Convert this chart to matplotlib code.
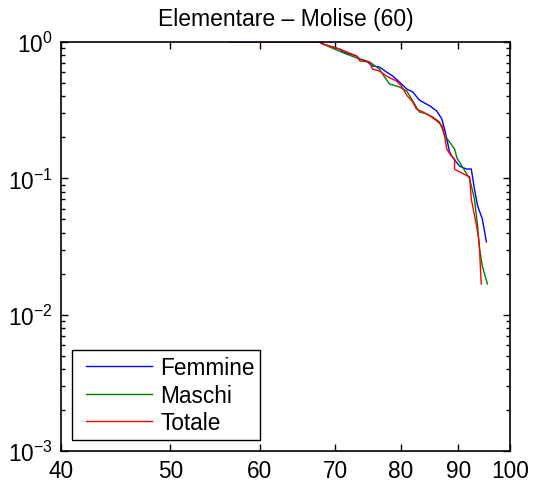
import numpy as np
import matplotlib
matplotlib.use("Agg")
import matplotlib.pyplot as plt
from matplotlib.legend_handler import HandlerLine2D
from matplotlib.ticker import FixedLocator, NullLocator, FixedFormatter, LogLocator, LogFormatterMathtext

plt.rcParams['font.family'] = ['Liberation Sans', 'DejaVu Sans']
plt.rcParams['mathtext.fontset'] = 'custom'
plt.rcParams['mathtext.rm'] = 'Liberation Sans'
plt.rcParams['mathtext.it'] = 'Liberation Sans:italic'
plt.rcParams['mathtext.bf'] = 'Liberation Sans:bold'

# Survival curves (fraction of schools with score >= x)
femmine_x = [56.5, 67.8, 68.2, 70.6, 71.1, 73.1, 73.6, 74.6, 75.5, 76.6, 77.7, 78.7,
             79.8, 81.0, 82.0, 83.1, 84.9, 86.1, 87.0, 87.5, 87.9, 88.4, 88.9, 90.2,
             91.5, 92.4, 93.0, 93.6, 94.5, 95.3]
femmine_y = [1.0, 1.0, 0.967, 0.889, 0.845, 0.79, 0.75, 0.726, 0.667, 0.656, 0.603, 0.563,
             0.509, 0.452, 0.43, 0.375, 0.34, 0.312, 0.273, 0.23, 0.194, 0.156, 0.1435, 0.123,
             0.117, 0.117, 0.0836, 0.0628, 0.0504, 0.0342]

maschi_x = [60.5, 67.8, 69.2, 71.5, 73.6, 75.1, 76.6, 77.4, 78.2, 79.8, 81.0, 81.8,
            83.1, 84.3, 85.4, 86.6, 87.1, 87.5, 88.4, 89.3, 89.8, 90.2, 92.1, 93.0,
            93.6, 93.9, 94.5, 95.5]
maschi_y = [1.0, 1.0, 0.919, 0.82, 0.75, 0.713, 0.634, 0.554, 0.492, 0.468, 0.437, 0.382,
            0.307, 0.297, 0.282, 0.259, 0.23, 0.205, 0.185, 0.164, 0.1388, 0.132, 0.099, 0.0706,
            0.0448, 0.0319, 0.0228, 0.0168]

totale_x = [59.9, 67.8, 68.2, 70.6, 73.1, 73.6, 75.1, 75.5, 76.6, 77.7, 79.3, 80.1,
            81.1, 82.0, 82.6, 83.7, 84.9, 86.1, 87.1, 87.5, 87.9, 88.7, 89.3, 89.3,
            90.2, 92.1, 92.4, 93.4, 93.9, 94.3]
totale_y = [1.0, 1.0, 0.967, 0.889, 0.79, 0.726, 0.713, 0.634, 0.613, 0.563, 0.518, 0.476,
            0.402, 0.363, 0.323, 0.307, 0.287, 0.264, 0.242, 0.205, 0.164, 0.146, 0.139, 0.117,
            0.1114, 0.1024, 0.0706, 0.0448, 0.0342, 0.0168]

series_labels = ["Femmine", "Maschi", "Totale"]
series_colors = ["#0000ff", "#008000", "#ff0000"]

x_ticks = [40, 50, 60, 70, 80, 90, 100]
title = "Elementare \u2013 Molise (60)"

FS = 16.3


class IndentedLine(HandlerLine2D):
    """Legend line sample pushed a few points to the right."""

    def __init__(self, shift, **kw):
        super().__init__(**kw)
        self._shift = shift

    def get_xdata(self, legend, xdescent, ydescent, width, height, fontsize):
        xd, xdm = super().get_xdata(legend, xdescent, ydescent, width, height, fontsize)
        return np.asarray(xd) + self._shift, np.asarray(xdm) + self._shift


fig = plt.figure(figsize=(5.37, 4.89), dpi=100)
ax = fig.add_axes([61 / 537, 37 / 489, 449 / 537, 409 / 489])

lines = []
for xs, ys, lab, col in zip([femmine_x, maschi_x, totale_x],
                            [femmine_y, maschi_y, totale_y],
                            series_labels, series_colors):
    ln, = ax.plot(xs, ys, color=col, lw=1.0, label=lab)
    lines.append(ln)

ax.set_xscale('log')
ax.set_yscale('log')
ax.set_xlim(40, 100)
ax.set_ylim(1e-3, 1)

ax.xaxis.set_major_locator(FixedLocator(x_ticks))
ax.xaxis.set_major_formatter(FixedFormatter([str(t) for t in x_ticks]))
ax.xaxis.set_minor_locator(NullLocator())
ax.yaxis.set_major_locator(LogLocator(base=10, numticks=10))
ax.yaxis.set_major_formatter(LogFormatterMathtext())
ax.yaxis.set_minor_locator(LogLocator(base=10, subs=range(2, 10), numticks=10))

ax.tick_params(which='both', direction='in', top=True, right=True,
               labelsize=FS, width=1.0, color='black')
ax.tick_params(which='major', length=5, pad=6)
ax.tick_params(which='minor', length=3)
for s in ax.spines.values():
    s.set_linewidth(1.2)

ax.set_title(title, fontsize=16.5, pad=12.2)

shift_pt = 8.4 * 72 / 100
leg = ax.legend(loc='lower left', bbox_to_anchor=(0.0245, 0.027), borderaxespad=0,
                fontsize=FS, handlelength=2.92, handletextpad=0.72,
                labelspacing=0.21, borderpad=0.25, fancybox=False, framealpha=1,
                handler_map={ln: IndentedLine(shift_pt) for ln in lines})
leg.get_frame().set_edgecolor('black')
leg.get_frame().set_linewidth(1.0)

fig.savefig("out.png", dpi=100)
